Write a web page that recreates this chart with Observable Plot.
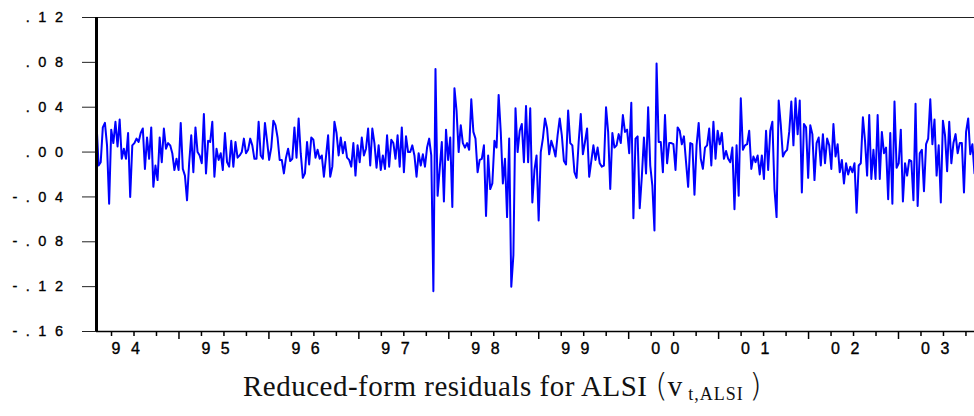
<!DOCTYPE html>
<html>
<head>
<meta charset="utf-8">
<script src="https://cdn.jsdelivr.net/npm/d3@7"></script>
<script src="https://cdn.jsdelivr.net/npm/@observablehq/plot@0.6"></script>
<style>
  html, body { margin: 0; padding: 0; background: #fff; }
  body { position: relative; width: 974px; height: 416px; overflow: hidden; }
  #chart svg { display: block; font-family: "Liberation Sans", Arial, sans-serif; }
  #chart g[aria-label="y-axis tick label"] text { font-size: 14.5px !important; letter-spacing: 8.5px; fill: #000; stroke: #000; stroke-width: 0.35px; }
  #chart g[aria-label="x-axis tick label"] text { font-size: 16px !important; letter-spacing: 10.5px; fill: #000; stroke: #000; stroke-width: 0.35px; }
  #title {
    position: absolute; left: 243px; top: 367px; white-space: nowrap; line-height: 1.15;
    font-family: "Liberation Serif", "DejaVu Serif", serif; font-size: 29px; letter-spacing: 0.5px; color: #111;
  }
  #title .paren { font-size: 32px; font-family: "DejaVu Sans", sans-serif; font-weight: 200; letter-spacing: 0; }
  #title sub { font-size: 18px; vertical-align: -4px; letter-spacing: 1px; }
</style>
</head>
<body>
<div id="chart"></div>
<div id="title">Reduced-form residuals for ALSI <span class="paren">(</span>v<sub> t,ALSI </sub><span class="paren">)</span></div>
<script>
// Sample span (fractional years)
const startYear = 1993.833;
const endYear = 2003.595;

// Residual values, in time order, split into segments
const resid1994 = [.026, -.012, -.009, .022, .026, .006, -.046, .020, .008, .027, .005, .029, -.006, .003, -.006, .017,
  -.040, .006, .008, .012, .009, .017, .021, -.015, .013, -.006, .022, -.031, -.012, -.025, .013, -.009,
  .021, .003, .008, .006, -.001, -.016, -.006, -.016, .026, -.015, -.021, -.043, -.010, .015, -.018, .022];
const resid1995 = [.000, -.003, -.010, .034, -.019, .010, .009, .027, -.022, .003, -.007, -.001, -.016, .017, -.009, -.013,
  .010, -.013, .009, -.005, -.003, .000, .012, -.001, .002, .012, .006, -.006, -.006, .027, -.003, -.006,
  .026, .010, -.007, .004, .028, .024, .013, -.007, -.007, -.019, -.005, .003, -.008, -.006, .022, -.005];
const resid1996 = [.030, -.001, -.023, -.019, .009, -.011, .013, .011, -.005, .002, -.006, -.003, -.022, -.004, .015, -.022,
  -.013, .027, .017, -.003, .013, -.001, .009, -.005, -.007, -.013, .008, -.021, .006, -.009, .013, -.003,
  .003, .021, -.012, .021, .008, -.014, .006, -.016, -.003, -.015, .015, -.013, .011, .008, -.006];
const resid1997 = [.015, -.013, .022, -.018, .014, .000, .000, .006, -.003, -.022, -.001, -.012, -.002, -.013, .004, .012,
  -.003, -.124, .074, -.039, -.015, .009, -.044, .020, -.007, .013, -.049, .057, .037, .000, .024, .008,
  .004, .008, .002, .047, .018];
const resid1998 = [.012, -.018, -.007, -.006, .006, -.057, -.003, -.033, -.028, .010, .004, .051, .018, -.028, -.006, -.058,
  .012, -.120, -.092, .039, .000, .019, .025, -.009, .041, -.009, .039, -.045, -.016, -.003, -.061, .000,
  .012, .030, .021, -.002, .010, .004, -.004, .015, .030, .015];
const resid1999 = [-.008, -.011, .037, .008, .006, -.018, -.023, .009, .034, -.002, .009, .021, -.022, -.008, .006, -.007,
  .004, -.010, -.013, -.012, .040, .018, -.033, .017, .004, .006, .016, .008, .033, .018, .020, -.001,
  .044, -.059, .012, .014, -.050, -.022];
const resid2000 = [.013, -.019, .040, -.012, -.030, -.070, .079, .009, .009, -.018, .033, -.010, .008, .008, .007, -.016,
  .022, .019, .007, .014, -.009, -.031, .008, .007, -.038, .006, .026, -.006, -.015, .004, .006, .021,
  -.012, .027, -.006, .019, .007, .017];
const resid2001 = [-.006, .001, -.006, -.009, .004, -.051, .006, -.039, .048, .002, .006, .007, .019, -.015, -.004, -.009,
  -.003, -.020, -.003, -.024, .019, -.016, .019, .027, -.033, -.058, .046, .024, -.004, .000, .002, .018,
  .045, .006, .048, .016, .046, -.036, .025, .022];
const resid2002 = [-.023, .024, .016, -.025, .008, .013, -.012, .016, -.010, .012, .006, -.015, .025, -.004, .007, -.018,
  -.007, -.028, -.010, -.020, -.013, -.018, -.010, -.054, -.012, -.010, .031, .010, -.021, .033, -.024, .002,
  -.024, .033, -.024, .018, -.001, .004, -.042, .017, -.046, .045];
const resid2003 = [-.014, -.010, .020, -.044, -.010, -.021, -.007, -.008, -.043, .043, -.048, -.001, .002, -.035, .007, .012,
  .047, .007, .029, -.021, .006, -.045, .028, .015, -.017, .027, -.010, .008, .016, -.001, .008, .008,
  -.036, .018, .030, -.002, .007, -.019];

// Axis ticks and labels
const yTickValues = [0.12, 0.08, 0.04, 0.00, -0.04, -0.08, -0.12, -0.16];
const yTickLabels = [".12", ".08", ".04", ".00", "-.04", "-.08", "-.12", "-.16"];
const yearTicks = [1994, 1995, 1996, 1997, 1998, 1999, 2000, 2001, 2002, 2003];
const yearLabels = ["94", "95", "96", "97", "98", "99", "00", "01", "02", "03"];
const quarterOffsets = [0, 0.25, 0.5];   // short ticks
const longTickOffset = 0.75;             // long tick

const values = [].concat(resid1994, resid1995, resid1996, resid1997, resid1998,
  resid1999, resid2000, resid2001, resid2002, resid2003);
const n = values.length;
const series = values.map((v, i) => ({t: startYear + i * (endYear - startYear) / (n - 1), v}));

const shortTicks = yearTicks.flatMap(y => quarterOffsets.map(q => y + q));
const longTicks = yearTicks.map(y => y + longTickOffset).filter(t => t <= endYear);
const yLabelOf = new Map(yTickValues.map((v, i) => [v, yTickLabels[i]]));
const xLabelOf = new Map(yearTicks.map((v, i) => [v, yearLabels[i]]));

const chart = Plot.plot({
  width: 974,
  height: 362,
  marginLeft: 96,
  marginRight: 0,
  marginTop: 17,
  marginBottom: 31,
  style: {background: "#fff", color: "#000"},
  x: {domain: [startYear, endYear], label: null},
  y: {domain: [-0.16, 0.12], label: null},
  marks: [
    Plot.ruleY([0.12], {stroke: "#222", strokeWidth: 1}),
    Plot.ruleY([-0.16], {stroke: "#000", strokeWidth: 1.5}),
    Plot.axisY({ticks: yTickValues, tickFormat: d => yLabelOf.get(d), tickSize: 14, tickPadding: 11,
      stroke: "#222", strokeWidth: 1}),
    Plot.axisX({ticks: shortTicks, tickSize: 5, tickFormat: () => "", stroke: "#000", strokeWidth: 1.5}),
    Plot.axisX({ticks: longTicks, tickSize: 8, tickFormat: () => "", stroke: "#000", strokeWidth: 1.5}),
    Plot.axisX({ticks: yearTicks, tickSize: 0, tickPadding: 11, textAnchor: "start",
      tickFormat: d => xLabelOf.get(d)}),
    Plot.line(series, {x: "t", y: "v", stroke: "#0000ff", strokeWidth: 2}),
    Plot.ruleX([startYear], {stroke: "#000", strokeWidth: 3})
  ]
});
document.getElementById("chart").appendChild(chart);
</script>
</body>
</html>
